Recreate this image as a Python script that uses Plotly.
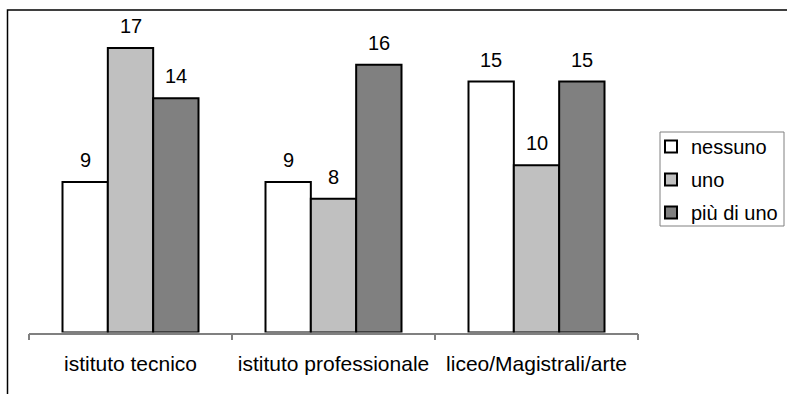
import plotly.graph_objects as go

categories = ["istituto tecnico", "istituto professionale", "liceo/Magistrali/arte"]
series_names = ["nessuno", "uno", "più di uno"]
nessuno = [9, 9, 15]
uno = [17, 8, 10]
piu_di_uno = [14, 16, 15]
series_values = [nessuno, uno, piu_di_uno]
colors = ["#FFFFFF", "#C0C0C0", "#808080"]

W, H = 787, 394
FONT = "Liberation Sans, Arial, sans-serif"

# plot area in pixels
x_left, x_right = 29, 638
y_axis_px = 332.5
y_max = 18
px_per_unit = 16.73
y_top_px = y_axis_px - y_max * px_per_unit

bargap = 0.33
n_series = len(series_names)
bar_w = (1 - bargap) / n_series

fig = go.Figure()
for k, (name, vals, col) in enumerate(zip(series_names, series_values, colors)):
    fig.add_trace(go.Bar(
        x=categories, y=vals, name=name,
        marker=dict(color=col, line=dict(color="#000000", width=2)),
        legendgroup=name,
    ))

annotations = []
for k, vals in enumerate(series_values):
    off = (k - (n_series - 1) / 2) * bar_w
    for i, v in enumerate(vals):
        annotations.append(dict(
            x=i + off, y=v, xref="x", yref="y", text=str(v),
            showarrow=False, yanchor="bottom", yshift=9,
            font=dict(family=FONT, size=20, color="#000000"),
        ))

# legend frame
leg_box = dict(x0=660, x1=784, y0=132, y1=226)

fig.update_layout(
    width=W, height=H,
    margin=dict(l=0, r=0, t=0, b=0),
    paper_bgcolor="#FFFFFF", plot_bgcolor="#FFFFFF",
    barmode="group", bargap=bargap, bargroupgap=0,
    font=dict(family=FONT, size=20, color="#000000"),
    xaxis=dict(
        domain=[x_left / W, x_right / W],
        type="category", range=[-0.5, 2.5],
        showline=True, linecolor="#808080", linewidth=1.5,
        ticks="outside", tickson="boundaries", ticklen=6,
        tickcolor="#808080", tickwidth=1.5,
        showgrid=False, zeroline=False, automargin=False,
        tickangle=0,
        tickfont=dict(family=FONT, size=21, color="#000000"),
        ticklabelstandoff=12,
    ),
    yaxis=dict(
        domain=[(H - y_axis_px) / H, (H - y_top_px) / H],
        range=[0, y_max], visible=False, showgrid=False, zeroline=False,
    ),
    legend=dict(
        x=651 / W, y=(H - 127) / H, xanchor="left", yanchor="top",
        borderwidth=0, bgcolor="rgba(0,0,0,0)",
        font=dict(family=FONT, size=20, color="#000000"),
        tracegroupgap=4, itemwidth=30,
    ),
    showlegend=True,
    annotations=annotations,
    shapes=[
        dict(
            type="rect", xref="paper", yref="paper",
            x0=7.5 / W, x1=1.05, y0=-0.05, y1=(H - 10) / H,
            line=dict(color="#000000", width=1.5), layer="below",
        ),
        dict(
            type="rect", xref="paper", yref="paper",
            x0=leg_box["x0"] / W, x1=leg_box["x1"] / W,
            y0=(H - leg_box["y1"]) / H, y1=(H - leg_box["y0"]) / H,
            line=dict(color="#808080", width=1), fillcolor="#FFFFFF",
            layer="below",
        ),
    ],
)

fig.write_html("out.html")
